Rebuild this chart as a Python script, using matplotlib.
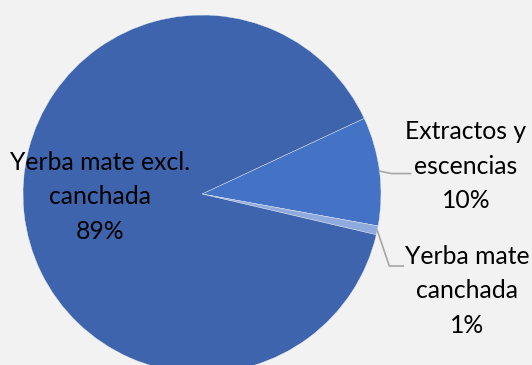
import numpy as np
import matplotlib
matplotlib.use("Agg")
import matplotlib.pyplot as plt

categories = ["Extractos y\nescencias", "Yerba mate\ncanchada", "Yerba mate excl.\ncanchada"]
values = [9.8, 0.8, 89.4]
colors = ["#4472C4", "#8FAADC", "#3D64AC"]

plt.rcParams['font.family'] = ['Lato', 'DejaVu Sans']

W, H = 532, 365
fig = plt.figure(figsize=(W / 100, H / 100), dpi=100, facecolor="#F2F2F2")
ax = fig.add_axes([0, 0, 1, 1])
ax.set_facecolor("#F2F2F2")

cx, cy, r = 202, H - 194, 179
wedges, _ = ax.pie(values, colors=colors, startangle=25, counterclock=False,
                   center=(cx, cy), radius=r, frame=True,
                   wedgeprops=dict(edgecolor="#E8EEF8", linewidth=0.3))
ax.set_xlim(0, W)
ax.set_ylim(0, H)
ax.set_aspect("equal")
ax.axis("off")

total = sum(values)
pct = [f"{round(v / total * 100):.0f}%" for v in values]
fs = 17.8
ls = 1.58
grey = "#A6A6A6"

# Extractos label
w = wedges[0]
mid = np.deg2rad((w.theta1 + w.theta2) / 2)
sx, sy = cx + r * np.cos(mid), cy + r * np.sin(mid)
ax.plot([sx, sx + 12, sx + 31], [sy, sy - 2.5, sy - 2.5], color=grey, lw=1.2)
ax.text(466, H - 166, f"{categories[0]}\n{pct[0]}", ha="center", va="center",
        fontsize=fs, linespacing=ls, color="#000000")

# Canchada label
w = wedges[1]
mid = np.deg2rad((w.theta1 + w.theta2) / 2)
sx, sy = cx + r * np.cos(mid), cy + r * np.sin(mid)
ax.plot([sx, sx + 12, sx + 26], [sy, H - 266, H - 266], color=grey, lw=1.2)
ax.text(467, H - 291, f"{categories[1]}\n{pct[1]}", ha="center", va="center",
        fontsize=fs, linespacing=ls, color="#000000")

# Big slice label
ax.text(100, H - 197, f"{categories[2]}\n{pct[2]}", ha="center", va="center",
        fontsize=fs, linespacing=ls, color="#000000")

fig.savefig("out.png", dpi=100, facecolor="#F2F2F2")
